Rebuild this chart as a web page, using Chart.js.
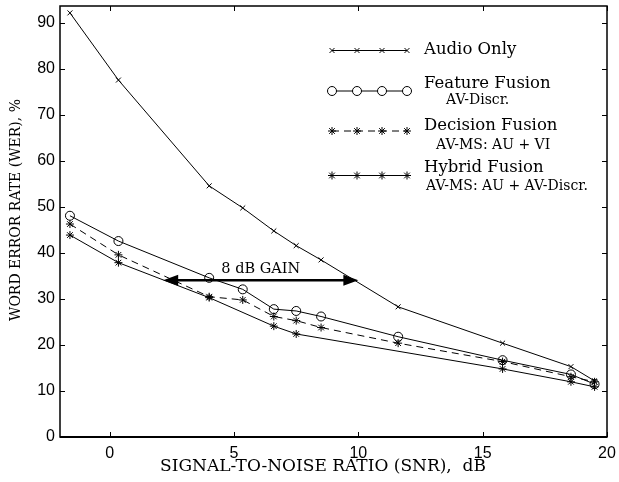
<!DOCTYPE html>
<html>
<head>
<meta charset="utf-8">
<script src="https://cdn.jsdelivr.net/npm/chart.js@4/dist/chart.umd.min.js"></script>
<style>
  html, body { margin: 0; padding: 0; background: #fff; }
  #wrap { position: relative; width: 619px; height: 482px; }
</style>
</head>
<body>
<div id="wrap"><canvas id="werChart" width="619" height="482"></canvas></div>
<script>
// SNR (dB) where each condition was measured
const snrPoints = [-1.6, 0.35, 4.0, 5.35, 6.6, 7.5, 8.5, 11.6, 15.8, 18.55, 19.5];

// word error rate, %
const audioOnly      = [92.2, 77.6, 54.6, 49.8, 44.8, 41.6, 38.5, 28.3, 20.4, 15.3, 12.2];
const featureFusion  = [48.1, 42.6, 34.6, 32.1, 27.8, 27.4, 26.2, 21.8, 16.7, 13.6, 11.5];
const decisionFusion = [46.3, 39.6, 30.5, 29.8, 26.2, 25.3, 23.8, 20.4, 16.4, 13.1, 12.0];
const hybridFusion   = [43.9, 37.9, 30.3, null, 24.1, 22.4, null, null, 14.8, 12.0, 10.9];

const xTicks = [0, 5, 10, 15, 20];
const yTicks = [0, 10, 20, 30, 40, 50, 60, 70, 80, 90];

const legendItems = [
    { label: 'Audio Only', sub: '' },
    { label: 'Feature Fusion', sub: 'AV-Discr.' },
    { label: 'Decision Fusion', sub: 'AV-MS: AU + VI' },
    { label: 'Hybrid Fusion', sub: 'AV-MS: AU + AV-Discr.' },
];

// 8 dB gain annotation, in data units
const gainFrom = 2.15;
const gainTo = 10.0;
const gainLevel = 34.1;
const gainText = '8 dB GAIN';

const serif = '"DejaVu Serif", "Liberation Serif", serif';
const sans = '"Liberation Sans", Arial, sans-serif';

function toXY(ys) {
    return snrPoints.map((x, i) => ({ x: x, y: ys[i] }));
}

const datasets = [
    { label: 'Audio Only', data: toXY(audioOnly), pointStyle: 'crossRot', pointRadius: 3.5, borderDash: [] },
    { label: 'Feature Fusion', data: toXY(featureFusion), pointStyle: 'circle', pointRadius: 4.5, borderDash: [] },
    { label: 'Decision Fusion', data: toXY(decisionFusion), pointStyle: 'star', pointRadius: 4, borderDash: [7, 5] },
    { label: 'Hybrid Fusion', data: toXY(hybridFusion), pointStyle: 'star', pointRadius: 4, borderDash: [] },
].map(d => Object.assign({
    borderColor: '#000',
    backgroundColor: 'rgba(255,255,255,0)',
    pointBorderColor: '#000',
    pointBackgroundColor: 'rgba(255,255,255,0)',
    pointBorderWidth: 1,
    borderWidth: 1,
    tension: 0,
    spanGaps: true,
}, d));

function drawMarker(ctx, style, r, x, y) {
    ctx.fillStyle = '#fff';
    ctx.strokeStyle = '#000';
    ctx.lineWidth = 1;
    Chart.helpers.drawPoint(ctx, { pointStyle: style, radius: r, borderWidth: 1 }, x, y);
}

const decorPlugin = {
    id: 'decor',
    afterDatasetsDraw(chart) {
        const ctx = chart.ctx;
        const a = chart.chartArea;
        const xs = chart.scales.x;
        const ys = chart.scales.y;
        ctx.save();

        // frame
        ctx.strokeStyle = '#000';
        ctx.lineWidth = 1.5;
        ctx.strokeRect(a.left, a.top, a.right - a.left, a.bottom - a.top);
        ctx.lineWidth = 2;
        ctx.beginPath();
        ctx.moveTo(a.left, a.bottom);
        ctx.lineTo(a.right, a.bottom);
        ctx.stroke();

        // inward ticks on all four sides
        ctx.lineWidth = 1;
        const tl = 5;
        ctx.beginPath();
        xTicks.forEach(v => {
            const px = Math.round(xs.getPixelForValue(v)) + 0.5;
            ctx.moveTo(px, a.bottom); ctx.lineTo(px, a.bottom - tl);
            ctx.moveTo(px, a.top); ctx.lineTo(px, a.top + tl);
        });
        yTicks.forEach(v => {
            const py = Math.round(ys.getPixelForValue(v)) + 0.5;
            ctx.moveTo(a.left, py); ctx.lineTo(a.left + tl, py);
            ctx.moveTo(a.right, py); ctx.lineTo(a.right - tl, py);
        });
        ctx.stroke();

        // axis titles
        ctx.fillStyle = '#000';
        ctx.textAlign = 'center';
        ctx.textBaseline = 'middle';
        ctx.font = '17px ' + serif;
        ctx.fillText('SIGNAL-TO-NOISE RATIO (SNR),  dB', 323, 467);
        ctx.save();
        ctx.translate(16, 210);
        ctx.rotate(-Math.PI / 2);
        ctx.font = '14px ' + serif;
        ctx.fillText('WORD ERROR RATE (WER), %', 0, 0);
        ctx.restore();

        // legend
        const rowY = [50.5, 91, 131, 175.5];
        const labelY = [50, 83.5, 125.5, 167.5];
        const subY = [0, 100.5, 145, 186];
        const subX = [0, 446, 436, 426];
        const sampleX = [332, 357, 382, 407];
        chart.data.datasets.forEach((ds, i) => {
            ctx.strokeStyle = '#000';
            ctx.lineWidth = 1;
            ctx.setLineDash(ds.borderDash);
            ctx.beginPath();
            ctx.moveTo(sampleX[0], rowY[i]);
            ctx.lineTo(sampleX[3], rowY[i]);
            ctx.stroke();
            ctx.setLineDash([]);
            sampleX.forEach(sx => drawMarker(ctx, ds.pointStyle, ds.pointRadius, sx, rowY[i]));
            ctx.fillStyle = '#000';
            ctx.textAlign = 'left';
            ctx.font = '16.5px ' + serif;
            ctx.fillText(legendItems[i].label, 424, labelY[i]);
            if (legendItems[i].sub) {
                ctx.font = '14px ' + serif;
                ctx.fillText(legendItems[i].sub, subX[i], subY[i]);
            }
        });

        // gain arrow
        const x0 = xs.getPixelForValue(gainFrom);
        const x1 = xs.getPixelForValue(gainTo);
        const yy = ys.getPixelForValue(gainLevel);
        const hl = 15, hw = 5.5;
        ctx.fillStyle = '#000';
        ctx.strokeStyle = '#000';
        ctx.lineWidth = 2.5;
        ctx.beginPath();
        ctx.moveTo(x0 + hl - 2, yy);
        ctx.lineTo(x1 - hl + 2, yy);
        ctx.stroke();
        ctx.beginPath();
        ctx.moveTo(x0, yy); ctx.lineTo(x0 + hl, yy - hw); ctx.lineTo(x0 + hl, yy + hw); ctx.closePath();
        ctx.moveTo(x1, yy); ctx.lineTo(x1 - hl, yy - hw); ctx.lineTo(x1 - hl, yy + hw); ctx.closePath();
        ctx.fill();
        ctx.font = '14.5px ' + serif;
        ctx.textAlign = 'center';
        ctx.fillText(gainText, (x0 + x1) / 2, yy - 11);

        ctx.restore();
    }
};

new Chart(document.getElementById('werChart'), {
    type: 'line',
    data: { datasets },
    plugins: [decorPlugin],
    options: {
        responsive: false,
        animation: false,
        devicePixelRatio: 1,
        layout: { padding: { top: 6, right: 12, left: 0, bottom: 0 } },
        plugins: { legend: { display: false }, tooltip: { enabled: false } },
        scales: {
            x: {
                type: 'linear',
                min: -2,
                max: 20,
                afterBuildTicks: s => { s.ticks = xTicks.map(v => ({ value: v })); },
                afterFit: s => { s.height = 45; s.paddingLeft = 0; s.paddingRight = 0; },
                grid: { display: false, drawTicks: false },
                border: { display: false },
                ticks: { color: '#000', font: { family: sans, size: 16 }, padding: 7, maxRotation: 0 },
            },
            y: {
                type: 'linear',
                min: 0,
                max: 93.7,
                afterBuildTicks: s => { s.ticks = yTicks.map(v => ({ value: v })); },
                afterFit: s => { s.width = 60; s.paddingTop = 0; s.paddingBottom = 0; },
                grid: { display: false, drawTicks: false },
                border: { display: false },
                ticks: { color: '#000', font: { family: sans, size: 16 }, padding: 5 },
            },
        },
    },
});
</script>
</body>
</html>
